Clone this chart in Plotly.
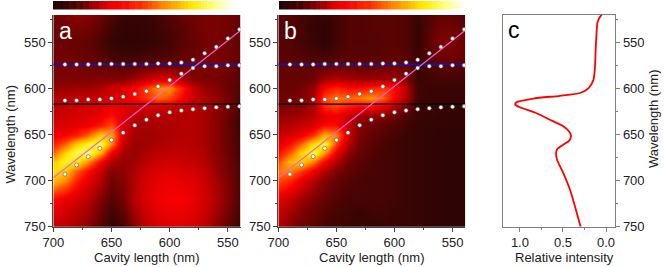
import plotly.graph_objects as go

cavity = [700,690,680,670,660,650,640,630,620,610,600,590,580,570,560,550,540]
wl = [520,535,550,565,575,590,600,610,620,630,640,650,660,670,680,690,700,720,735,750]

z_a = [
 [.17,.19,.21,.20,.16,.12,.08,.07,.08,.10,.13,.15,.17,.18,.18,.17,.15],
 [.16,.17,.18,.17,.14,.09,.06,.06,.07,.09,.11,.13,.16,.18,.18,.17,.15],
 [.16,.16,.15,.14,.11,.07,.05,.05,.06,.08,.10,.13,.15,.17,.18,.17,.15],
 [.17,.17,.16,.15,.13,.10,.09,.09,.10,.11,.12,.14,.16,.18,.19,.17,.15],
 [.18,.18,.17,.16,.15,.14,.13,.13,.15,.16,.16,.16,.18,.19,.19,.17,.14],
 [.19,.19,.19,.19,.20,.20,.20,.24,.29,.34,.34,.26,.20,.18,.18,.16,.13],
 [.22,.23,.24,.24,.26,.30,.34,.40,.50,.60,.62,.46,.30,.23,.20,.16,.12],
 [.27,.28,.29,.30,.31,.33,.37,.42,.48,.56,.52,.41,.31,.26,.22,.17,.12],
 [.28,.30,.31,.33,.35,.39,.35,.33,.32,.32,.31,.29,.27,.25,.22,.17,.11],
 [.30,.32,.33,.34,.37,.43,.35,.28,.27,.27,.27,.27,.27,.25,.21,.16,.10],
 [.33,.34,.36,.38,.44,.52,.34,.26,.25,.26,.26,.27,.27,.25,.21,.15,.09],
 [.37,.40,.45,.55,.70,.65,.33,.25,.24,.25,.26,.27,.27,.25,.21,.15,.10],
 [.45,.55,.70,.80,.84,.60,.29,.23,.24,.26,.27,.28,.27,.25,.21,.15,.10],
 [.55,.72,.84,.85,.66,.38,.25,.23,.26,.28,.29,.29,.28,.26,.21,.16,.10],
 [.70,.80,.76,.60,.40,.26,.22,.24,.28,.31,.32,.31,.29,.27,.22,.17,.11],
 [.74,.71,.55,.42,.30,.20,.21,.26,.31,.34,.35,.34,.32,.29,.23,.17,.12],
 [.68,.60,.46,.35,.27,.17,.20,.27,.33,.37,.38,.37,.35,.31,.25,.18,.12],
 [.42,.37,.33,.28,.20,.12,.18,.28,.34,.38,.40,.40,.37,.32,.26,.19,.12],
 [.34,.31,.28,.24,.16,.09,.14,.24,.31,.36,.38,.38,.35,.31,.24,.17,.10],
 [.30,.28,.25,.20,.13,.06,.10,.20,.29,.33,.34,.34,.32,.28,.21,.14,.08],
]

z_b = [
 [.13,.12,.10,.08,.07,.10,.12,.12,.13,.13,.13,.12,.08,.12,.14,.14,.12],
 [.13,.12,.10,.07,.05,.09,.12,.12,.13,.13,.13,.12,.07,.13,.17,.17,.14],
 [.13,.12,.10,.08,.05,.09,.12,.12,.12,.13,.13,.12,.07,.14,.19,.19,.16],
 [.13,.13,.12,.11,.10,.12,.13,.13,.13,.13,.14,.13,.08,.13,.17,.17,.15],
 [.15,.15,.14,.14,.14,.15,.15,.15,.15,.16,.16,.15,.08,.11,.14,.14,.12],
 [.15,.15,.15,.17,.24,.27,.25,.23,.23,.24,.24,.20,.08,.09,.10,.10,.09],
 [.16,.16,.17,.22,.40,.46,.42,.42,.46,.50,.42,.27,.09,.08,.08,.08,.08],
 [.17,.17,.19,.25,.52,.58,.56,.58,.62,.55,.40,.26,.09,.08,.08,.08,.07],
 [.19,.20,.21,.26,.46,.50,.44,.40,.40,.35,.27,.18,.08,.07,.07,.07,.06],
 [.22,.23,.25,.28,.36,.38,.30,.24,.22,.20,.16,.11,.08,.07,.06,.06,.06],
 [.26,.27,.30,.33,.42,.42,.30,.20,.17,.14,.12,.09,.07,.06,.06,.06,.06],
 [.30,.33,.38,.48,.66,.60,.31,.19,.14,.12,.10,.08,.07,.06,.05,.05,.05],
 [.36,.43,.56,.74,.82,.50,.27,.17,.13,.11,.09,.08,.07,.06,.05,.05,.05],
 [.42,.55,.72,.83,.62,.36,.21,.15,.12,.10,.09,.08,.07,.06,.05,.05,.05],
 [.52,.68,.72,.58,.40,.26,.17,.13,.11,.10,.09,.08,.07,.06,.05,.05,.05],
 [.58,.60,.50,.38,.27,.19,.14,.12,.11,.10,.09,.08,.07,.06,.05,.05,.05],
 [.52,.46,.36,.27,.20,.15,.12,.11,.10,.10,.09,.08,.07,.06,.05,.05,.05],
 [.36,.30,.24,.19,.15,.12,.10,.10,.10,.10,.09,.08,.07,.06,.05,.05,.05],
 [.30,.24,.19,.15,.12,.10,.09,.08,.09,.09,.08,.08,.07,.06,.05,.05,.05],
 [.27,.20,.16,.13,.11,.09,.08,.07,.07,.08,.08,.08,.07,.06,.05,.05,.05],
]

bar_levels = [.00,.05,.02,.08,.06,.12,.09,.15,.13,.19,.17,.22,.25,.24,.29,.32,.35,.38,.39,.39,.41,.43,.42,.45,.46,.48,.47,.50,.51,.53,.55,.56,.58,.60,.61,.63,.65,.66,.68,.70,.72,.74,.75,.77,.79,.81,.83,.85,.87,.89,.91,.93,.95,.97,.99,1.0]
bar_pos = list(range(len(bar_levels)))
bar_row = [0]

dot_x = [690,680,670,660,650,640,630,620,610,600,590,580,570,560,550,540]
top_branch = [574,574,574,573.5,573.5,573.5,573.5,573.5,573,573,572,569,562,555,546,536]
mid_branch = [613,613,612,612,611,609,606,603,598,591,584,578,576,576,575,575]
low_branch = [693,683,674,665,656,648,640,634,629,626,624,622.5,621.5,620.5,620,619.5]

blue_wl = 574
black_wl = 617
photon_x = [700,540]
photon_wl = [697,538]

spec_val = [.05,.08,.10,.11,.12,.13,.147,.205,.30,.535,.845,1.04,1.055,1.0,.806,.63,.496,.426,.407,.426,.496,.566,.58,.566,.496,.418,.36,.295]
spec_wl = [520,524,529,540,558,580,591,600,605,608,611,615,617.6,620.5,627,635,641,647,651.6,656.6,661,665.7,670,678,692,710,728,750]

colorscale = [[0,'#1c0404'],[.08,'#3a0404'],[.18,'#780202'],[.3,'#c80000'],[.4,'#f80000'],[.5,'#ff3800'],[.6,'#ff8800'],[.75,'#ffe800'],[.88,'#ffff80'],[1,'#ffffff']]

W, H = 664, 267
def dx(a, b): return [a / W, b / W]
def dy(top, bottom): return [1 - bottom / H, 1 - top / H]

FONT = 'Liberation Sans, Arial, sans-serif'
GREY = '#444444'
FRAME = '#808080'
fig = go.Figure()

def panel(z, xa, ya):
    fig.add_trace(go.Heatmap(
        x=cavity, y=wl, z=z, xaxis=xa, yaxis=ya, zmin=0, zmax=1, zsmooth='best',
        colorscale=colorscale, hoverinfo='skip', showscale=False))
    fig.add_trace(go.Scatter(x=[700, 539], y=[blue_wl, blue_wl], xaxis=xa, yaxis=ya, mode='lines',
                             line=dict(color='#1a10b0', width=2), hoverinfo='skip'))
    fig.add_trace(go.Scatter(x=[700, 539], y=[black_wl, black_wl], xaxis=xa, yaxis=ya, mode='lines',
                             line=dict(color='#000000', width=1.2), hoverinfo='skip'))
    fig.add_trace(go.Scatter(x=photon_x, y=photon_wl, xaxis=xa, yaxis=ya, mode='lines',
                             line=dict(color='#f060d8', width=1.1), hoverinfo='skip'))
    for branch in (top_branch, mid_branch, low_branch):
        fig.add_trace(go.Scatter(x=dot_x, y=branch, xaxis=xa, yaxis=ya, mode='markers',
                                 marker=dict(size=4, color='white', line=dict(color='#555555', width=0.6)),
                                 hoverinfo='skip'))

panel(z_a, 'x', 'y')
panel(z_b, 'x2', 'y2')

fig.add_trace(go.Scatter(x=spec_val, y=spec_wl, xaxis='x3', yaxis='y3', mode='lines',
                         line=dict(color='#ff0000', width=1.8, shape='spline', smoothing=0.6), hoverinfo='skip'))

for xa, ya in (('x4', 'y4'), ('x5', 'y5')):
    fig.add_trace(go.Heatmap(x=bar_pos, y=bar_row, z=[bar_levels], xaxis=xa, yaxis=ya, zmin=0, zmax=1,
                             colorscale=colorscale, showscale=False, hoverinfo='skip'))

tf = dict(family=FONT, size=13, color='#222222')
def base(col):
    return dict(showline=True, linecolor=col, linewidth=1, ticks='outside', ticklen=4, tickwidth=1, tickcolor=col,
                showgrid=False, zeroline=False, automargin=False, tickfont=tf)
xrange_ = [700, 539]
yrange = [750, 520.4]
y_ticks = [550, 600, 650, 700, 750]
y_minor = [525, 575, 625, 675, 725]
ywl = dict(range=yrange, tickvals=y_ticks, minor=dict(ticks='outside', ticklen=2, tickcolor=GREY, tickvals=y_minor), **base(GREY))
xcv = dict(range=xrange_, tickvals=[700, 650, 600, 550], minor=dict(ticks='outside', ticklen=2, tickcolor=GREY, tickvals=[675, 625, 575]), **base(GREY))
hidden = dict(visible=False, fixedrange=True, automargin=False)

def label(text, px, py, size=13, color='#222222', angle=0):
    return dict(text=text, x=px / W, y=1 - py / H, xref='paper', yref='paper', showarrow=False,
                xanchor='center', yanchor='middle', textangle=angle,
                font=dict(family=FONT, size=size, color=color))

fig.update_layout(
    width=W, height=H, margin=dict(l=0, r=0, t=0, b=0), paper_bgcolor='white', plot_bgcolor='white',
    showlegend=False,
    xaxis=dict(domain=dx(53.3, 240.7), anchor='y', **xcv),
    yaxis=dict(domain=dy(15, 226.7), anchor='x', **ywl),
    xaxis2=dict(domain=dx(278.3, 465.3), anchor='y2', **xcv),
    yaxis2=dict(domain=dy(15, 226.7), anchor='x2', **ywl),
    xaxis3=dict(domain=dx(502.7, 615.3), anchor='y3', range=[1.2, -0.108], tickvals=[1.0, 0.5, 0.0], ticktext=['1.0', '0.5', '0.0'],
                mirror=True, minor=dict(ticks='outside', ticklen=2, tickcolor=FRAME, tickvals=[0.75, 0.25]), **base(FRAME)),
    yaxis3=dict(domain=dy(15, 226.7), anchor='x3', side='right', mirror=True, range=yrange, tickvals=y_ticks,
                minor=dict(ticks='outside', ticklen=2, tickcolor=FRAME, tickvals=y_minor), **base(FRAME)),
    xaxis4=dict(domain=dx(53, 237), anchor='y4', **hidden),
    yaxis4=dict(domain=dy(1, 9.5), anchor='x4', **hidden),
    xaxis5=dict(domain=dx(279, 469), anchor='y5', **hidden),
    yaxis5=dict(domain=dy(1, 9.5), anchor='x5', **hidden),
    annotations=[
        label('a', 65, 31, 23, 'white'),
        label('b', 290, 31, 23, 'white'),
        label('c', 514, 30, 23, 'black'),
        label('Cavity length (nm)', 146.7, 257),
        label('Cavity length (nm)', 371.5, 257),
        label('Relative intensity', 564, 257),
        label('Wavelength (nm)', 10, 134.5, angle=-90),
        label('Wavelength (nm)', 653, 119, angle=-90),
    ],
)
fig.write_html("out.html", config=dict(displayModeBar=False), post_script="document.body.style.margin='0';")
